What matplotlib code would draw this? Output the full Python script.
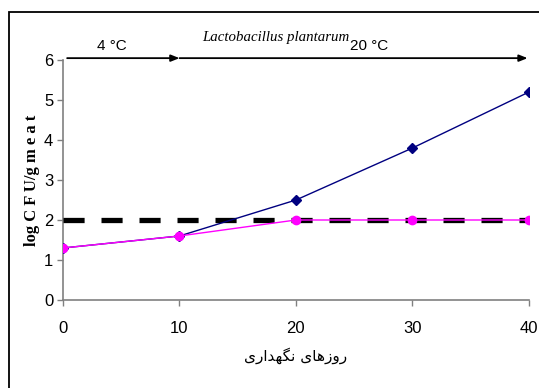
import numpy as np
import matplotlib.pyplot as plt
from matplotlib.patches import Rectangle

# storage days and bacterial counts (log CFU/g meat)
days = [0, 10, 20, 30, 40]
blue_vals = [1.3, 1.6, 2.5, 3.8, 5.2]
pink_vals = [1.3, 1.6, 2.0, 2.0, 2.0]
limit_val = 2.0

xticks = [0, 10, 20, 30, 40]
yticks = [0, 1, 2, 3, 4, 5, 6]

# Persian x label "روزهای نگهداری" in presentation forms, visual order
xlabel_txt = '\uFBFC\uFEAD\uFE8D\uFEAA\uFEEC\uFB95\uFEE7 \uFBFC\uFE8E\uFEEB\uFEAF\uFEED\uFEAD'

fig = plt.figure(figsize=(5.39, 3.88), dpi=100)
ax = fig.add_axes([0.117, 0.227, 0.864, 0.618])

# frame around the whole chart (cut at right and bottom)
fig.patches.append(Rectangle((9 / 539, -0.2), 1.2, 1.2 - 12 / 388,
                             transform=fig.transFigure, fill=False,
                             edgecolor='black', linewidth=1.3))

ax.plot(days, [limit_val] * len(days), color='black', linewidth=3.8,
        dashes=(4.0, 3.2), zorder=3)
ax.plot(days, blue_vals, color='#000080', linewidth=1.0, marker='D',
        markersize=5.5, zorder=4)
ax.plot(days, pink_vals, color='#FF00FF', linewidth=1.0, marker='o',
        markersize=6, zorder=5)

# temperature arrows
arr = dict(arrowstyle='-|>,head_length=0.5,head_width=0.2', color='black',
           linewidth=1.3, shrinkA=0, shrinkB=0)
ax.annotate('', xy=(10, 6.05), xytext=(0.35, 6.05), arrowprops=arr,
            annotation_clip=False)
ax.annotate('', xy=(39.9, 6.05), xytext=(10, 6.05), arrowprops=arr,
            annotation_clip=False)
ax.text(4.2, 6.35, '4 °C', ha='center', va='center', fontsize=11,
        family='Liberation Sans')
ax.text(11.93, 6.56, 'Lactobacillus plantarum', ha='left', va='center',
        fontsize=10.7, style='italic', family='Liberation Serif')
ax.text(24.65, 6.36, '20 °C', ha='left', va='center', fontsize=11,
        family='Liberation Sans')

ax.set_xlim(0, 40)
ax.set_ylim(0, 6)
ax.set_xticks(xticks)
ax.set_yticks(yticks)
for s in ['top', 'right']:
    ax.spines[s].set_visible(False)
for s in ['left', 'bottom']:
    ax.spines[s].set_color('#808080')
    ax.spines[s].set_linewidth(1.2)
    ax.spines[s].set_clip_on(False)
ax.tick_params(axis='both', direction='out', length=4, color='#808080',
               width=1.0, labelsize=12)
ax.tick_params(axis='x', pad=11)
ax.tick_params(axis='y', pad=3)
for lbl in ax.get_xticklabels() + ax.get_yticklabels():
    lbl.set_family('Liberation Sans')

ax.set_ylabel('log C F U/g m e a t', fontsize=12, fontweight='bold',
              family='Liberation Serif', labelpad=3)
ax.set_xlabel(xlabel_txt, fontsize=11, family='DejaVu Sans', labelpad=8)

fig.savefig('out.png', dpi=100)
